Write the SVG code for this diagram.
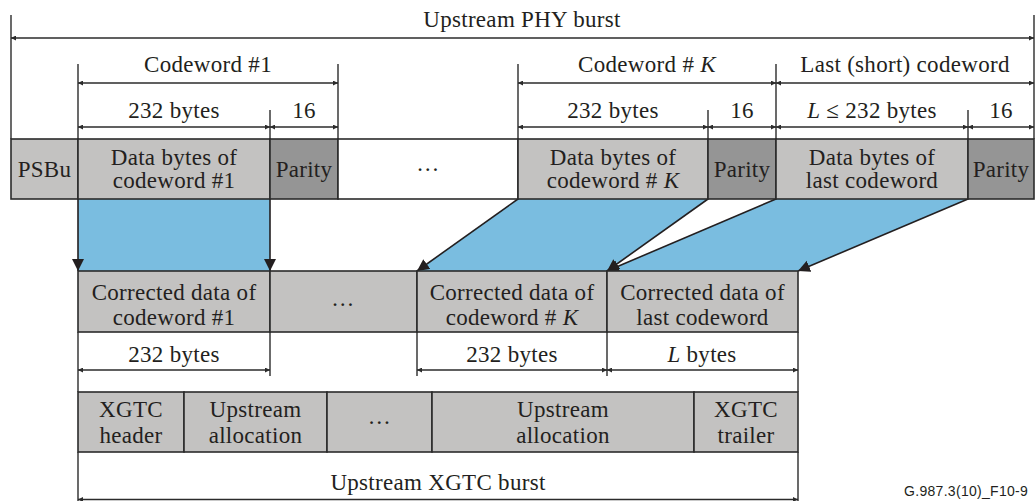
<svg xmlns="http://www.w3.org/2000/svg" width="1035" height="501" viewBox="0 0 1035 501">
<style>
text{font-family:"Liberation Serif","Times New Roman",serif;font-size:23px;letter-spacing:0.3px;fill:#231f20;text-anchor:middle}
.it{font-style:italic}
.lt{fill:#c3c2c1;stroke:#2b2b2b;stroke-width:1.6}
.dk{fill:#959595;stroke:#2b2b2b;stroke-width:1.6}
.wh{fill:#ffffff;stroke:#2b2b2b;stroke-width:1.6}
.ln{stroke:#2b2b2b;stroke-width:1.4;fill:none}
.dim{stroke:#2b2b2b;stroke-width:1.4;fill:none;marker-start:url(#sa);marker-end:url(#sa)}
.blue{fill:#7abde0;stroke:none}
.arr{stroke:#231f20;stroke-width:1.6;fill:none;marker-end:url(#ba)}
.lbl{font-family:"Liberation Sans",Arial,sans-serif;font-size:14px;letter-spacing:0.3px;text-anchor:start;fill:#231f20}
</style>
<defs>
<marker id="sa" viewBox="0 0 10 10" refX="10" refY="5" markerWidth="7" markerHeight="5" markerUnits="userSpaceOnUse" orient="auto-start-reverse"><path d="M0,0 L10,5 L0,10 z" fill="#2b2b2b"/></marker>
<marker id="ba" viewBox="0 0 10 10" refX="10" refY="5" markerWidth="12" markerHeight="13" markerUnits="userSpaceOnUse" orient="auto"><path d="M0,0 L10,5 L0,10 z" fill="#231f20"/></marker>
</defs>

<g id="connectors">
<polygon class="blue" points="78,199 270,199 270,271 78,271"/>
<polygon class="blue" points="518,199 708,199 607,271 417,271"/>
<polygon class="blue" points="776,199 968,199 798,271 607,271"/>
<line class="arr" x1="78" y1="199" x2="78" y2="271"/>
<line class="arr" x1="270" y1="199" x2="270" y2="271"/>
<line class="arr" x1="518" y1="199" x2="417" y2="271"/>
<line class="arr" x1="708" y1="199" x2="607" y2="271"/>
<line class="arr" x1="776" y1="199" x2="607" y2="271"/>
<line class="arr" x1="968" y1="199" x2="798" y2="271"/>
</g>

<g id="dimensions">
<line class="ln" x1="11" y1="15" x2="11" y2="139"/>
<line class="ln" x1="1034" y1="15" x2="1034" y2="139"/>
<line class="dim" x1="11" y1="38" x2="1034" y2="38"/>
<text x="522" y="27">Upstream PHY burst</text>

<line class="ln" x1="78" y1="64" x2="78" y2="139"/>
<line class="ln" x1="338" y1="64" x2="338" y2="139"/>
<line class="ln" x1="270" y1="110" x2="270" y2="139"/>
<line class="dim" x1="78" y1="83" x2="338" y2="83"/>
<line class="dim" x1="78" y1="127" x2="270" y2="127"/>
<line class="dim" x1="270" y1="127" x2="338" y2="127"/>
<text x="208" y="72">Codeword #1</text>
<text x="174" y="118">232 bytes</text>
<text x="304" y="118">16</text>

<line class="ln" x1="518" y1="64" x2="518" y2="139"/>
<line class="ln" x1="776" y1="64" x2="776" y2="139"/>
<line class="ln" x1="708" y1="110" x2="708" y2="139"/>
<line class="ln" x1="968" y1="110" x2="968" y2="139"/>
<line class="dim" x1="518" y1="83" x2="776" y2="83"/>
<line class="dim" x1="776" y1="83" x2="1034" y2="83"/>
<line class="dim" x1="518" y1="127" x2="708" y2="127"/>
<line class="dim" x1="708" y1="127" x2="776" y2="127"/>
<line class="dim" x1="776" y1="127" x2="968" y2="127"/>
<line class="dim" x1="968" y1="127" x2="1034" y2="127"/>
<text x="647" y="72">Codeword # <tspan class="it">K</tspan></text>
<text x="905" y="72">Last (short) codeword</text>
<text x="613" y="118">232 bytes</text>
<text x="742" y="118">16</text>
<text x="872" y="118"><tspan class="it">L</tspan> ≤ 232 bytes</text>
<text x="1001" y="118">16</text>

<line class="ln" x1="78" y1="332" x2="78" y2="392"/>
<line class="ln" x1="270" y1="332" x2="270" y2="376"/>
<line class="ln" x1="417" y1="332" x2="417" y2="376"/>
<line class="ln" x1="607" y1="332" x2="607" y2="376"/>
<line class="ln" x1="798" y1="332" x2="798" y2="392"/>
<line class="dim" x1="78" y1="370" x2="270" y2="370"/>
<line class="dim" x1="417" y1="370" x2="607" y2="370"/>
<line class="dim" x1="607" y1="370" x2="798" y2="370"/>
<text x="174" y="362">232 bytes</text>
<text x="512" y="362">232 bytes</text>
<text x="702" y="362"><tspan class="it">L</tspan> bytes</text>

<line class="ln" x1="78" y1="452" x2="78" y2="501"/>
<line class="ln" x1="798" y1="452" x2="798" y2="501"/>
<line class="dim" x1="78" y1="499.5" x2="798" y2="499.5"/>
<text x="438" y="490">Upstream XGTC burst</text>
</g>

<g id="n-psbu"><rect class="lt" x="11" y="139" width="67" height="60"/><text x="44.5" y="177">PSBu</text></g>
<g id="n-data1"><rect class="lt" x="78" y="139" width="192" height="60"/><text x="174" y="165">Data bytes of</text><text x="174" y="188">codeword #1</text></g>
<g id="n-parity1"><rect class="dk" x="270" y="139" width="68" height="60"/><text x="304" y="177">Parity</text></g>
<g id="n-gap1"><rect class="wh" x="338" y="139" width="180" height="60"/><text x="428" y="171">…</text></g>
<g id="n-datak"><rect class="lt" x="518" y="139" width="190" height="60"/><text x="613" y="165">Data bytes of</text><text x="613" y="188">codeword # <tspan class="it">K</tspan></text></g>
<g id="n-parityk"><rect class="dk" x="708" y="139" width="68" height="60"/><text x="742" y="177">Parity</text></g>
<g id="n-datal"><rect class="lt" x="776" y="139" width="192" height="60"/><text x="872" y="165">Data bytes of</text><text x="872" y="188">last codeword</text></g>
<g id="n-parityl"><rect class="dk" x="968" y="139" width="66" height="60"/><text x="1001" y="177">Parity</text></g>

<g id="n-corr1"><rect class="lt" x="78" y="271" width="192" height="61"/><text x="174" y="300">Corrected data of</text><text x="174" y="325">codeword #1</text></g>
<g id="n-corrgap"><rect class="lt" x="270" y="271" width="147" height="61"/><text x="343" y="306">…</text></g>
<g id="n-corrk"><rect class="lt" x="417" y="271" width="190" height="61"/><text x="512" y="300">Corrected data of</text><text x="512" y="325">codeword # <tspan class="it">K</tspan></text></g>
<g id="n-corrl"><rect class="lt" x="607" y="271" width="191" height="61"/><text x="702.5" y="300">Corrected data of</text><text x="702.5" y="325">last codeword</text></g>

<g id="n-xhdr"><rect class="lt" x="78" y="392" width="106" height="60"/><text x="131" y="417">XGTC</text><text x="131" y="443">header</text></g>
<g id="n-alloc1"><rect class="lt" x="184" y="392" width="143" height="60"/><text x="255.5" y="417">Upstream</text><text x="255.5" y="443">allocation</text></g>
<g id="n-xgap"><rect class="lt" x="327" y="392" width="105" height="60"/><text x="379.5" y="424">…</text></g>
<g id="n-alloc2"><rect class="lt" x="432" y="392" width="262" height="60"/><text x="563" y="417">Upstream</text><text x="563" y="443">allocation</text></g>
<g id="n-xtrl"><rect class="lt" x="694" y="392" width="104" height="60"/><text x="746" y="417">XGTC</text><text x="746" y="443">trailer</text></g>

<text class="lbl" x="904" y="496">G.987.3(10)_F10-9</text>
</svg>
